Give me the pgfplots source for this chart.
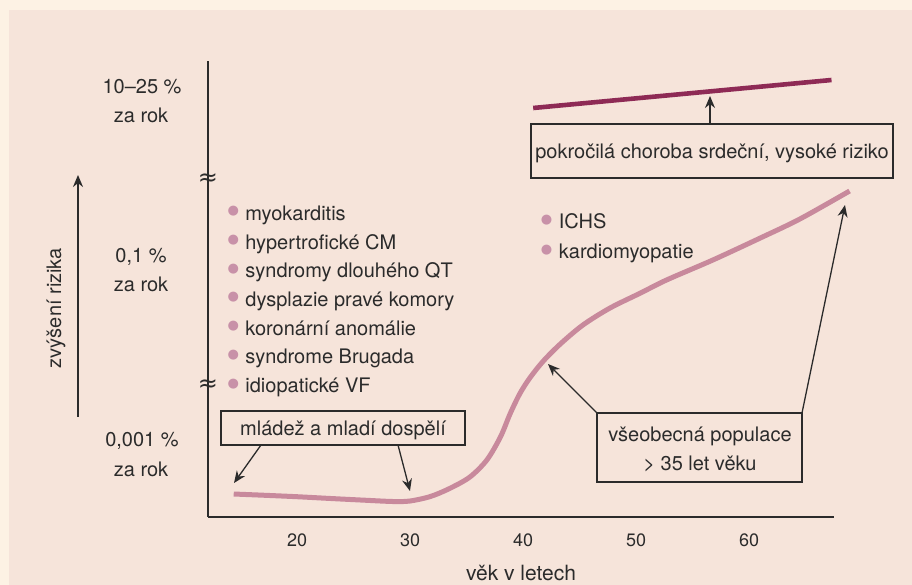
\documentclass[border=0pt]{standalone}
\usepackage{pgfplots}
\pgfplotsset{compat=1.18}
\usetikzlibrary{arrows.meta}
\usepackage{graphicx}
\usepackage{fontspec}
\setmainfont{TeX Gyre Heros}
\newfontfamily\dejavu{DejaVu Sans}
\definecolor{outerbg}{HTML}{FDF2E4}
\definecolor{innerbg}{HTML}{F6E4DA}
\definecolor{curvecol}{HTML}{C8899C}
\definecolor{redcol}{HTML}{8E2A55}
\definecolor{bulcol}{HTML}{C891A8}
\definecolor{txt}{HTML}{2B2B2B}
\newcommand\fs{\fontsize{10bp}{12bp}\selectfont}
\newcommand\bul[1]{\makebox[#1][l]{\textcolor{bulcol}{\raisebox{\dimexpr4.5bp-0.5\height+0.5\depth\relax}{\resizebox*{!}{5bp}{\dejavu ●}}}}}
\begin{document}
\begin{tikzpicture}
\begin{scope}[x=0.5bp,y=-0.5bp]
\fill[outerbg] (0,0) rectangle (912,585);
\fill[innerbg] (9,10) rectangle (912,585);
\end{scope}
\begin{axis}[
  at={(104bp,-258.5bp)}, anchor=south west,
  scale only axis, width=313bp, height=228bp,
  xmin=12.124, xmax=67.522, ymin=0, ymax=456,
  axis x line=bottom, axis y line=left,
  axis line style={-, line width=0.75bp, txt},
  major tick length=0pt,
  xtick={20,30,40,50,60}, ytick=\empty,
  /pgf/number format/assume math mode=true,
  xticklabel style={font=\fontsize{9bp}{10bp}\selectfont, text=txt, anchor=base, yshift=-14.5bp},
  xlabel={věk v letech},
  xlabel style={font=\fontsize{10.5bp}{12bp}\selectfont, text=txt, at={(axis description cs:0.5,0)}, anchor=base, yshift=-31.5bp},
  clip=false,
]
\addplot[curvecol, line width=2.5bp, smooth, line cap=butt] coordinates {
(14.4,23) (17,21.8) (20,20.3) (23,18.5) (26,16.8) (28.5,15.5) (30,16) (31.8,20.5)
(33.5,28.5) (35.3,40) (36.8,57) (38,80) (38.85,103) (39.7,123) (40.6,139)
(41.8,156) (43.3,173) (45.3,192) (47.7,209) (50.4,224) (52.7,237) (56.8,257)
(61,279) (64.5,298) (68.9,326)};
\addplot[redcol, line width=2.3bp] coordinates {(40.9,409) (67.3,437)};
\end{axis}
\begin{scope}[x=0.5bp,y=-0.5bp, font=\fs, text=txt]
% y-axis label and arrow
\node[rotate=90, anchor=base] at (61,308) {zvýšení rizika};
\draw[txt, line width=0.75bp, -{Stealth[length=6bp,width=5bp]}] (78,417) -- (78,175);
% risk levels
\node[anchor=base] at (142,94) {10–25 \%};
\node[anchor=base] at (141,123) {za rok};
\node[anchor=base] at (141,263) {0,1 \%};
\node[anchor=base] at (141,292) {za rok};
\node[anchor=base] at (142,447) {0,001 \%};
\node[anchor=base] at (141,476) {za rok};
% axis breaks
\node[font=\dejavu\fontsize{12bp}{12bp}\selectfont, text=txt] at (208,180) {≈};
\node[font=\dejavu\fontsize{12bp}{12bp}\selectfont, text=txt] at (208,386) {≈};
% list
\node[anchor=base west, inner sep=0pt] at (227.3,220.5) {\bul{8.85bp}myokarditis};
\node[anchor=base west, inner sep=0pt] at (227.3,249.2) {\bul{8.85bp}hypertrofické CM};
\node[anchor=base west, inner sep=0pt] at (227.3,277.9) {\bul{8.85bp}syndromy dlouhého QT};
\node[anchor=base west, inner sep=0pt] at (227.3,306.6) {\bul{8.85bp}dysplazie pravé komory};
\node[anchor=base west, inner sep=0pt] at (227.3,335.3) {\bul{8.85bp}koronární anomálie};
\node[anchor=base west, inner sep=0pt] at (227.3,364.0) {\bul{8.85bp}syndrome Brugada};
\node[anchor=base west, inner sep=0pt] at (227.3,392.7) {\bul{8.85bp}idiopatické VF};
\node[anchor=base west, inner sep=0pt] at (540.5,229) {\bul{9bp}ICHS};
\node[anchor=base west, inner sep=0pt] at (540.5,259) {\bul{9bp}kardiomyopatie};
% boxes
\draw[txt, line width=0.65bp] (531,124) rectangle (893,178);
\node[anchor=base] at (712,159) {pokročilá choroba srdeční, vysoké riziko};
\draw[txt, line width=0.65bp, -{Stealth[length=6bp,width=5bp]}] (710,124) -- (710,96);
\draw[txt, line width=0.65bp] (221,411) rectangle (465,445);
\node[anchor=base] at (343,436) {mládež a mladí dospělí};
\draw[txt, line width=0.65bp, -{Stealth[length=6bp,width=5bp]}] (261,445) -- (234,483);
\draw[txt, line width=0.65bp, -{Stealth[length=6bp,width=5bp]}] (398,445) -- (410,491);
\draw[txt, line width=0.65bp] (597,413) rectangle (802,482);
\node[anchor=base] at (700,442) {všeobecná populace};
\node[anchor=base] at (700,470) {> 35 let věku};
\draw[txt, line width=0.65bp, -{Stealth[length=6bp,width=5bp]}] (597,413) -- (548,364);
\draw[txt, line width=0.65bp, -{Stealth[length=6bp,width=5bp]}] (802,413) -- (845,205);
\pgfresetboundingbox
\path[use as bounding box] (0,0) rectangle (912,585);
\end{scope}
\end{tikzpicture}
\end{document}
